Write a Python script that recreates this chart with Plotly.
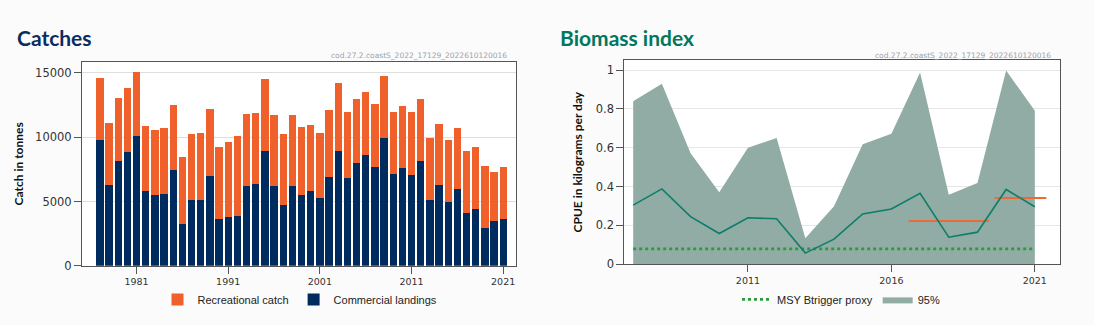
import plotly.graph_objects as go

# ---- Catches (tonnes) ----
catch_years = list(range(1977, 2022))
commercial_landings = [
    9750, 6260, 8160, 8870, 10130, 5850, 5520, 5620, 7420, 3270,
    5120, 5120, 6990, 3650, 3770, 3880, 6210, 6380, 8940, 6210,
    4710, 6210, 5500, 5800, 5240, 6920, 8890, 6840, 8000, 8610,
    7650, 9900, 7140, 7600, 7090, 8160, 5120, 6260, 4970, 5950,
    4100, 4380, 2940, 3450, 3670,
]
total_catch = [
    14570, 11070, 13050, 13830, 15070, 10840, 10590, 10690, 12540, 8440,
    10280, 10310, 12230, 9220, 9630, 10060, 11800, 11910, 14510, 11700,
    10210, 11700, 10770, 10970, 10310, 12110, 14190, 11930, 12990, 13500,
    12590, 14740, 11930, 12410, 11930, 12990, 9930, 11020, 9800, 10740,
    8940, 9250, 7780, 7270, 7700,
]
recreational_catch = [t - c for t, c in zip(total_catch, commercial_landings)]
catch_ticks = [0, 5000, 10000, 15000]

# ---- Biomass index (CPUE, kg per day) ----
index_years = list(range(2007, 2022))
cpue = [0.304, 0.388, 0.245, 0.158, 0.239, 0.234, 0.057, 0.129,
        0.259, 0.284, 0.365, 0.139, 0.165, 0.385, 0.296]
cpue_upper95 = [0.840, 0.929, 0.571, 0.370, 0.600, 0.650, 0.134, 0.299,
                0.618, 0.672, 0.987, 0.358, 0.418, 0.998, 0.790]
msy_btrigger_proxy = 0.079
# averaging periods for the index ratio (first/last year of each)
ratio_periods = [(2017, 2019), (2020, 2021)]
cpue_ticks = [0, 0.2, 0.4, 0.6, 0.8, 1]

NAVY = "#002B5F"
ORANGE = "#F0602A"
TEAL = "#00775F"
BAND = "#90ACA5"
FRAME = "#555555"
GRID = "#DEDEDE"
TICKFONT = dict(family="DejaVu Sans", size=11.5, color="#333333")
XTICKFONT = dict(family="DejaVu Sans", size=9.5, color="#333333")

fig = go.Figure()

fig.add_trace(go.Bar(
    x=catch_years, y=commercial_landings, name="Commercial landings",
    marker=dict(color=NAVY, line=dict(width=0)),
    xaxis="x", yaxis="y", legend="legend", legendrank=2,
))
fig.add_trace(go.Bar(
    x=catch_years, y=recreational_catch, name="Recreational catch",
    marker=dict(color=ORANGE, line=dict(width=0)),
    xaxis="x", yaxis="y", legend="legend", legendrank=1,
))

fig.add_trace(go.Scatter(
    x=index_years, y=cpue_upper95, name="95%", mode="lines",
    fill="tozeroy", fillcolor=BAND, line=dict(width=0, color=BAND),
    xaxis="x2", yaxis="y2", legend="legend2", legendrank=2,
))
fig.add_trace(go.Scatter(
    x=[index_years[0], index_years[-1]],
    y=[msy_btrigger_proxy, msy_btrigger_proxy],
    name="MSY Btrigger proxy", mode="lines",
    line=dict(color="#2E9A3E", width=2.6, dash="dot"),
    xaxis="x2", yaxis="y2", legend="legend2", legendrank=1,
))
for start, end in ratio_periods:
    vals = [v for yr, v in zip(index_years, cpue) if start <= yr <= end]
    mean_val = sum(vals) / len(vals)
    fig.add_trace(go.Scatter(
        x=[start - 0.4, end + 0.4], y=[mean_val, mean_val], mode="lines",
        line=dict(color="#EE6A35", width=2), showlegend=False,
        xaxis="x2", yaxis="y2", hoverinfo="skip",
    ))
fig.add_trace(go.Scatter(
    x=index_years, y=cpue, mode="lines", name="CPUE",
    line=dict(color="#0C7E69", width=1.6), showlegend=False,
    xaxis="x2", yaxis="y2",
))

W, H = 1094, 325
def px(x):
    return x / W
def py(y):
    return 1 - y / H

axis_common = dict(showline=True, linecolor=FRAME, linewidth=1, mirror=True,
                   ticks="outside", ticklen=7, tickcolor=FRAME, zeroline=False)

fig.update_layout(
    width=W, height=H, margin=dict(l=0, r=0, t=0, b=0),
    paper_bgcolor="#FBFBFB", plot_bgcolor="white",
    barmode="stack", bargap=0.2,
    showlegend=True,
    xaxis=dict(domain=[px(82), px(516)], range=[1975.05, 2022.4],
               tickvals=[1981, 1991, 2001, 2011, 2021], showgrid=False,
               tickfont=XTICKFONT, anchor="y", **axis_common),
    yaxis=dict(domain=[py(271.7), py(63.3)], range=[0, 15850],
               tickvals=catch_ticks, ticktext=[str(v) for v in catch_ticks],
               showgrid=True, gridcolor=GRID, tickfont=TICKFONT, anchor="x",
               **axis_common),
    xaxis2=dict(domain=[px(624.3), px(1059.5)], range=[2006.69, 2021.86],
                tickvals=[2011, 2016, 2021], showgrid=False,
                tickfont=XTICKFONT, anchor="y2", **axis_common),
    yaxis2=dict(domain=[py(270), py(61.7)], range=[0, 1.05],
                tickvals=cpue_ticks, ticktext=[f"{v:g}" for v in cpue_ticks],
                showgrid=True, gridcolor="#E6E6E6", tickfont=TICKFONT,
                anchor="x2", **axis_common),
    legend=dict(orientation="h", x=px(300), y=py(306), xanchor="center",
                yanchor="middle", bgcolor="rgba(0,0,0,0)", traceorder="normal",
                font=dict(family="Liberation Sans", size=11, color="#222")),
    legend2=dict(orientation="h", x=px(841), y=py(306), xanchor="center",
                 yanchor="middle", bgcolor="rgba(0,0,0,0)", traceorder="normal",
                 font=dict(family="Liberation Sans", size=11, color="#222")),
)

source_tag = "cod.27.2.coastS_2022_17129_2022610120016"
annotations = [
    dict(text="<b>Catches</b>", x=px(15), y=py(38), xanchor="left",
         yanchor="middle", font=dict(family="Lato", size=21, color="#0B2D5E")),
    dict(text="<b>Biomass index</b>", x=px(558), y=py(38), xanchor="left",
         yanchor="middle", font=dict(family="Lato", size=21, color=TEAL)),
    dict(text=source_tag, x=px(509), y=py(57), xanchor="right",
         yanchor="middle", font=dict(family="DejaVu Sans", size=7.5, color="#9AA2AE")),
    dict(text=source_tag, x=px(1053), y=py(57), xanchor="right",
         yanchor="middle", font=dict(family="DejaVu Sans", size=7.5, color="#9AA2AE")),
    dict(text="<b>Catch in tonnes</b>", x=px(18), y=py(168), textangle=-90,
         xanchor="center", yanchor="middle",
         font=dict(family="Lato", size=12, color="#111")),
    dict(text="<b>CPUE in kilograms per day</b>", x=px(577), y=py(166),
         textangle=-90, xanchor="center", yanchor="middle",
         font=dict(family="Lato", size=12, color="#111")),
]
for a in annotations:
    a.update(xref="paper", yref="paper", showarrow=False)
fig.update_layout(annotations=annotations)

fig.write_html("out.html")
